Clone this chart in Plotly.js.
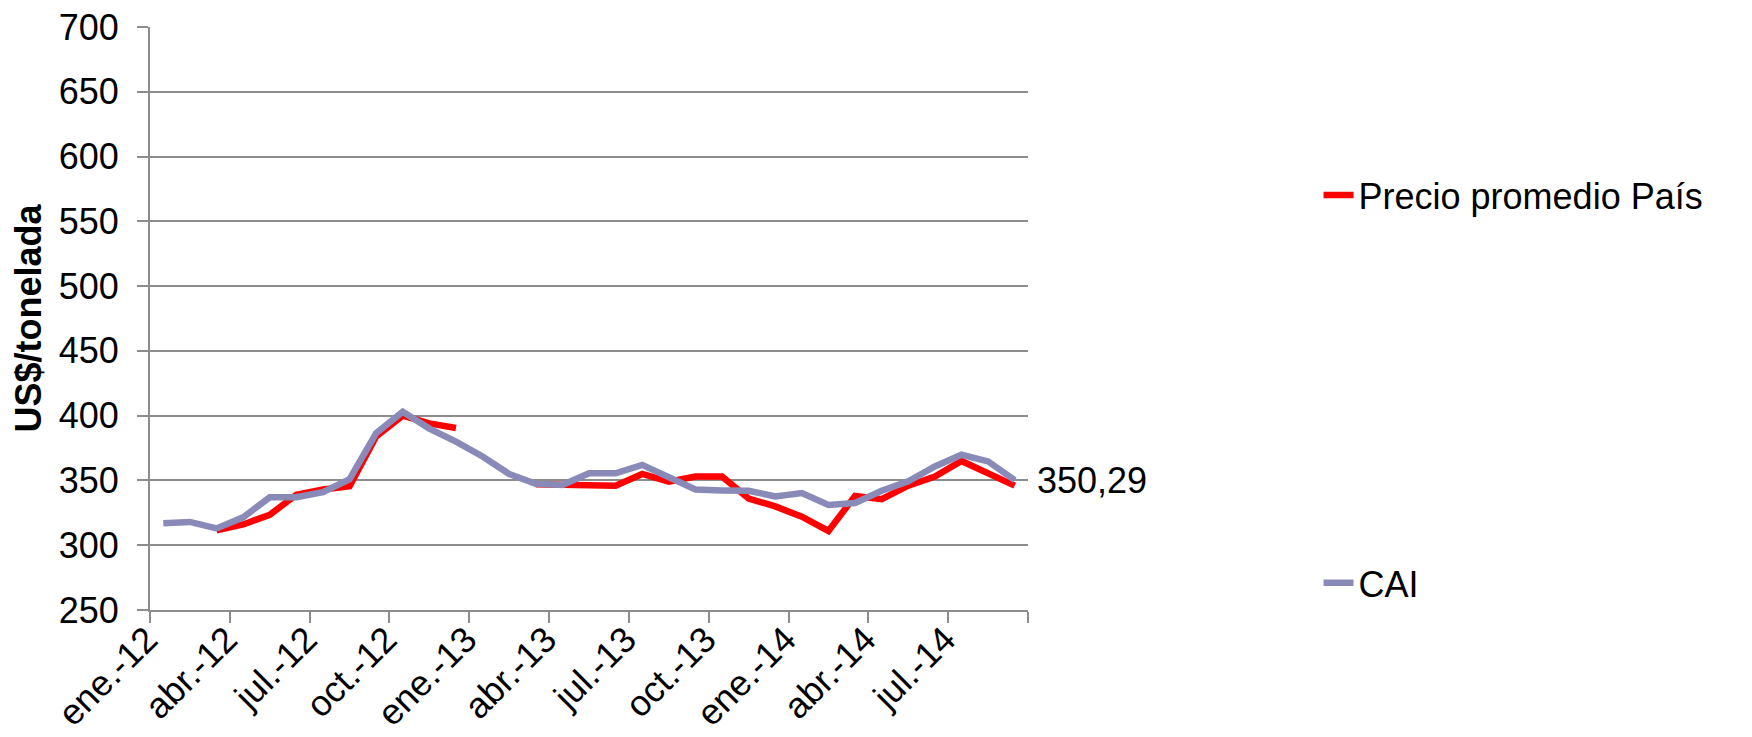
<!DOCTYPE html>
<html>
<head>
<meta charset="utf-8">
<script src="https://cdn.plot.ly/plotly-3.0.1.min.js"></script>
<style>
  html, body { margin: 0; padding: 0; background: #ffffff; }
  #chart { width: 1752px; height: 737px; }
</style>
</head>
<body>
<div id="chart"></div>
<script>
const categories = [
  'ene.-12','feb.-12','mar.-12','abr.-12','may.-12','jun.-12','jul.-12','ago.-12','sep.-12','oct.-12','nov.-12','dic.-12',
  'ene.-13','feb.-13','mar.-13','abr.-13','may.-13','jun.-13','jul.-13','ago.-13','sep.-13','oct.-13','nov.-13','dic.-13',
  'ene.-14','feb.-14','mar.-14','abr.-14','may.-14','jun.-14','jul.-14','ago.-14','sep.-14'
];
const precioPais = [
  null, null, 311.5, 316, 323.5, 339, 343, 345.5, 384, 400, 394, 390.5,
  null, null, 347, 347, 346.5, 346, 355, 349, 353, 353, 336, 330,
  322, 311, 338, 335.5, 346, 353, 365, 355, 346
];
const cai = [
  317, 318, 313, 321.5, 337, 337, 341, 351, 386.5, 403, 390, 380,
  368.5, 355, 347.5, 346.5, 355.5, 355.5, 362, 352.5, 343, 342.3, 342, 337.7,
  340.3, 331, 332.6, 342, 349.3, 360.8, 369.8, 364.7, 350.29
];
const tickLabels = ['ene.-12','abr.-12','jul.-12','oct.-12','ene.-13','abr.-13','jul.-13','oct.-13','ene.-14','abr.-14','jul.-14'];
const seriesNames = ['Precio promedio País', 'CAI'];
const yTitle = 'US$/tonelada';

// ---- geometry (layout only) ----
const W = 1752, H = 737;
const ML = 120, PLOT_LEFT = 150, PLOT_RIGHT = 1027.6, MT = 26.5, MB = 126.5;
const MR = W - PLOT_RIGHT;
const n = categories.length;
const pxPerCat = (PLOT_RIGHT - PLOT_LEFT) / n;
const extraLeft = (PLOT_LEFT - ML) / pxPerCat;
const xDomStart = (PLOT_LEFT - ML) / (PLOT_RIGHT - ML);

const xIdx = categories.map((_, i) => i);
const LABEL_SHIFT = 0.62; // rotated label anchor offset (category units)
const labelVals = tickLabels.map(l => categories.indexOf(l) - LABEL_SHIFT);
const boundaryVals = [];
for (let b = -0.5; b <= n - 0.5; b += 3) boundaryVals.push(b);

const FONT = '"Liberation Sans", Arial, sans-serif';
const GRID = '#8c8c8c';
const LW = 6.5;

const traces = [
  {
    type: 'scatter', mode: 'lines', name: seriesNames[0],
    x: xIdx, y: precioPais, connectgaps: false,
    xaxis: 'x', yaxis: 'y',
    line: { color: '#ff0000', width: LW },
    legendgroup: 'g1', hoverinfo: 'skip'
  },
  {
    type: 'scatter', mode: 'lines', name: seriesNames[1],
    x: xIdx, y: cai,
    xaxis: 'x', yaxis: 'y',
    line: { color: '#8a8ab9', width: LW },
    legendgroup: 'g2', hoverinfo: 'skip'
  },
  {
    // carrier for the category label axis (no visible marks)
    type: 'scatter', mode: 'none', x: [], y: [],
    xaxis: 'x2', yaxis: 'y2', showlegend: false, hoverinfo: 'skip'
  }
];

const lastI = cai.length - 1;
const plotW = W - ML - MR;
const legendLeftPx = 1318;

const layout = {
  width: W, height: H,
  margin: { l: ML, r: MR, t: MT, b: MB, pad: 0 },
  paper_bgcolor: '#ffffff', plot_bgcolor: 'rgba(0,0,0,0)',
  font: { family: FONT, size: 36, color: '#000000' },
  showlegend: true,
  legend: {
    x: (legendLeftPx - ML) / plotW, xanchor: 'left', y: 0.763, yanchor: 'top',
    traceorder: 'grouped', tracegroupgap: 338,
    font: { family: FONT, size: 36, color: '#000000' },
    bgcolor: 'rgba(0,0,0,0)', borderwidth: 0
  },
  xaxis: {
    domain: [xDomStart, 1], anchor: 'y',
    range: [-0.5, n - 0.5],
    tickmode: 'array', tickvals: boundaryVals, showticklabels: false,
    ticks: 'outside', ticklen: 11, tickwidth: 2, tickcolor: GRID,
    showline: true, linecolor: GRID, linewidth: 2,
    showgrid: false, zeroline: false, fixedrange: true
  },
  xaxis2: {
    anchor: 'y2', side: 'bottom',
    domain: [0, 1],
    range: [-0.5 - extraLeft, n - 0.5],
    tickmode: 'array', tickvals: labelVals, ticktext: tickLabels,
    tickangle: -45, ticks: '', ticklabelstandoff: 0,
    tickfont: { family: FONT, size: 36, color: '#000000' },
    showline: false, showgrid: false, zeroline: false, fixedrange: true
  },
  yaxis: {
    anchor: 'x',
    range: [250, 700], tickmode: 'linear', tick0: 250, dtick: 50,
    ticks: 'outside', ticklen: 11, tickwidth: 2, tickcolor: GRID,
    showline: true, linecolor: GRID, linewidth: 2,
    showgrid: true, gridcolor: GRID, gridwidth: 2,
    zeroline: false, fixedrange: true,
    ticklabelstandoff: 11,
    tickfont: { family: FONT, size: 36, color: '#000000' },
    title: { text: '<b>' + yTitle + '</b>', font: { family: FONT, size: 36, color: '#000000' }, standoff: 6 }
  },
  yaxis2: {
    anchor: 'x2', domain: [0, 1], range: [250, 700],
    visible: false, showgrid: false, zeroline: false, fixedrange: true
  },
  annotations: [
    {
      xref: 'x', yref: 'y', x: lastI, y: cai[lastI],
      text: cai[lastI].toFixed(2).replace('.', ','),
      showarrow: false, xanchor: 'left', yanchor: 'middle', xshift: 20,
      font: { family: FONT, size: 36, color: '#000000' }
    }
  ]
};

Plotly.newPlot('chart', traces, layout, { displayModeBar: false, staticPlot: true });
</script>
</body>
</html>
